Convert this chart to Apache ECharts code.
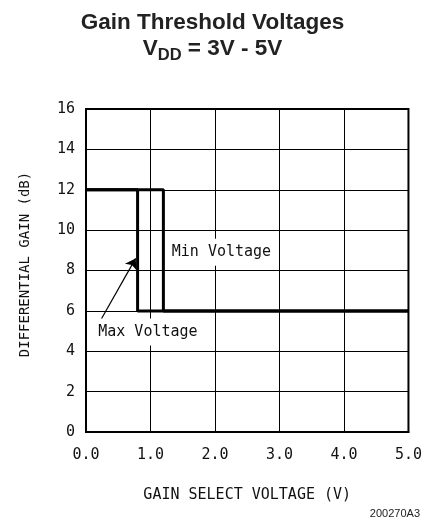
<!DOCTYPE html>
<html><head><meta charset="utf-8">
<script src="https://cdn.jsdelivr.net/npm/echarts@6/dist/echarts.min.js"></script>
<style>html,body{margin:0;padding:0;background:#fff}#c{width:425px;height:524px}</style>
</head><body><div id="c"></div>
<script>
const xTicks = [0, 1, 2, 3, 4, 5];
const yTicks = [0, 2, 4, 6, 8, 10, 12, 14, 16];
const maxVoltageX = [0, 0.8, 0.8, 5];
const maxVoltageY = [12, 12, 6, 6];
const minVoltageX = [0, 1.2, 1.2, 5];
const minVoltageY = [12, 12, 6, 6];
const labelNames = ['Min Voltage', 'Max Voltage'];
const labelPos = [[2.1, 8.9], [0.96, 4.95]];
const arrowFrom = [0.22, 5.5];
const arrowTo = [0.77, 8.6];

const mono = 'DejaVu Sans Mono';
const chart = echarts.init(document.getElementById('c'));
chart.setOption({
  animation: false,
  backgroundColor: '#fff',
  title: {
    left: 'center', top: 5,
    text: '{t|Gain Threshold Voltages}\n{v|V}{s|DD}{v| = 3V - 5V}',
    textStyle: {
      rich: {
        t: {fontFamily: 'Liberation Sans', fontWeight: 'bold', fontSize: 22.5, color: '#222', lineHeight: 26},
        v: {fontFamily: 'Liberation Sans', fontWeight: 'bold', fontSize: 22.5, color: '#222', lineHeight: 26},
        s: {fontFamily: 'Liberation Sans', fontWeight: 'bold', fontSize: 16.5, color: '#222', padding: [12, 0, 0, 0], lineHeight: 26}
      }
    }
  },
  grid: {left: 86, top: 109, width: 324, height: 323, show: true, borderColor: '#000', borderWidth: 2, backgroundColor: 'transparent'},
  xAxis: {
    type: 'value', min: xTicks[0], max: xTicks[xTicks.length - 1], interval: 1,
    name: 'GAIN SELECT VOLTAGE (V)', nameLocation: 'middle', nameGap: 56,
    nameTextStyle: {fontFamily: mono, fontSize: 15, color: '#111'},
    axisLine: {show: true, lineStyle: {color: '#000', width: 2}},
    axisTick: {show: false},
    axisLabel: {fontFamily: mono, fontSize: 15, color: '#111', margin: 16, formatter: v => v.toFixed(1)},
    splitLine: {show: true, lineStyle: {color: '#000', width: 1}}
  },
  yAxis: {
    type: 'value', min: yTicks[0], max: yTicks[yTicks.length - 1], interval: 2,
    name: 'DIFFERENTIAL GAIN (dB)', nameLocation: 'middle', nameGap: 54,
    nameTextStyle: {fontFamily: mono, fontSize: 14, color: '#111', padding: [0, 0, 0, 12]},
    axisLine: {show: true, lineStyle: {color: '#000', width: 2}},
    axisTick: {show: false},
    axisLabel: {fontFamily: mono, fontSize: 15, color: '#111', margin: 11},
    splitLine: {show: true, lineStyle: {color: '#000', width: 1}}
  },
  series: [
    {
      type: 'line', name: 'Max Voltage', symbol: 'none', z: 5,
      data: maxVoltageX.map((x, i) => [x, maxVoltageY[i]]),
      lineStyle: {color: '#000', width: 3}
    },
    {
      type: 'line', name: 'Min Voltage', symbol: 'none', z: 5,
      data: minVoltageX.map((x, i) => [x, minVoltageY[i]]),
      lineStyle: {color: '#000', width: 3}
    },
    {
      type: 'scatter', symbolSize: 1, z: 6,
      itemStyle: {opacity: 1, color: 'rgba(0,0,0,0)'},
      data: labelNames.map((n, i) => ({value: labelPos[i], name: n})),
      label: {
        show: true, position: 'inside', formatter: p => p.name, opacity: 1,
        fontFamily: mono, fontSize: 15, color: '#111',
        backgroundColor: '#fff', padding: [6, 2, 6, 2]
      }
    },
    {
      type: 'lines', coordinateSystem: 'cartesian2d', z: 6,
      symbol: ['none', 'arrow'], symbolSize: 10,
      data: [{coords: [arrowFrom, arrowTo]}],
      lineStyle: {color: '#000', width: 1.2, opacity: 1}
    }
  ],
  graphic: [{
    type: 'text', right: 5, top: 508,
    style: {text: '200270A3', font: '11px "Liberation Sans"', fill: '#222'}
  }]
});
</script></body></html>
